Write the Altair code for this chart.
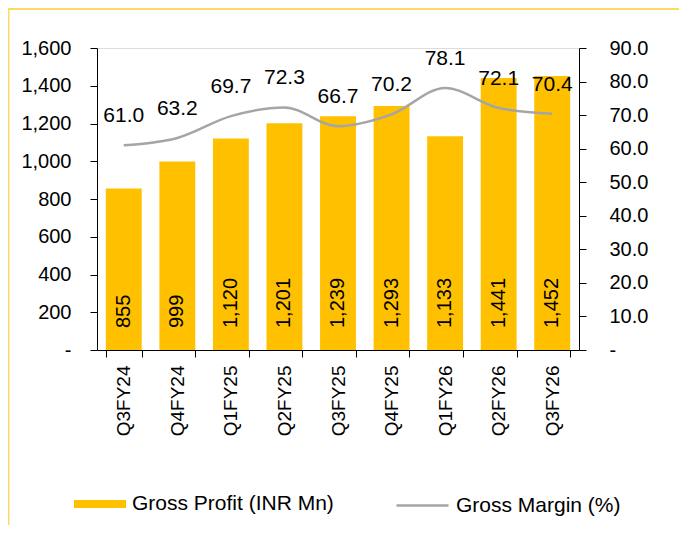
import altair as alt
import pandas as pd

quarters = ["Q3FY24", "Q4FY24", "Q1FY25", "Q2FY25", "Q3FY25", "Q4FY25", "Q1FY26", "Q2FY26", "Q3FY26"]
gross_profit = [855, 999, 1120, 1201, 1239, 1293, 1133, 1441, 1452]
gross_margin = [61.0, 63.2, 69.7, 72.3, 66.7, 70.2, 78.1, 72.1, 70.4]
left_ticks = [0, 200, 400, 600, 800, 1000, 1200, 1400, 1600]
right_ticks = [0, 10, 20, 30, 40, 50, 60, 70, 80, 90]
series_bar = "Gross Profit (INR Mn)"
series_line = "Gross Margin (%)"

df = pd.DataFrame({
    "q": quarters,
    "gp": gross_profit,
    "gm": gross_margin,
    "zero": [0] * len(quarters),
    "s1": [series_bar] * len(quarters),
    "s2": [series_line] * len(quarters),
})

FONT = "Liberation Sans"
W, H = 482, 302

x_scale = alt.Scale(paddingInner=0.33, paddingOuter=0.165)
x_axis = alt.Axis(labelAngle=-90, tickBand="extent", tickSize=7,
                  labelPadding=8, domainColor="black", tickColor="black",
                  labelColor="black", labelFontSize=19, labelFont=FONT,
                  labelOverlap=False)
xenc = alt.X("q:N", sort=quarters, title=None, scale=x_scale, axis=x_axis)

left_scale = alt.Scale(domain=[0, 1600], nice=False)
left_axis = alt.Axis(values=left_ticks, grid=False, tickSize=7, labelPadding=19,
                     domainColor="black", tickColor="black", labelColor="black",
                     labelFontSize=20, labelFont=FONT, labelOverlap=False,
                     labelExpr="datum.value == 0 ? '-\u00a0\u00a0' : format(datum.value, ',')")

right_scale = alt.Scale(domain=[0, 90], nice=False)
right_axis = alt.Axis(orient="right", values=right_ticks, grid=False, tickSize=7,
                      labelPadding=23, domainColor="black", tickColor="black",
                      labelColor="black", labelFontSize=20, labelFont=FONT,
                      labelOverlap=False,
                      labelExpr="datum.value == 0 ? '-' : format(datum.value, '.1f')")

bars = alt.Chart(df).mark_bar().encode(
    x=xenc,
    y=alt.Y("gp:Q", title=None, scale=left_scale, axis=left_axis),
    fill=alt.Fill("s1:N", scale=alt.Scale(domain=[series_bar], range=["#FFC000"]),
                  legend=alt.Legend(orient="none", legendX=-23, legendY=430, title=None,
                                    symbolType="M-1,-0.15H1V0.15H-1Z", symbolSize=2704,
                                    symbolStrokeWidth=0, labelFontSize=21, labelFont=FONT,
                                    labelColor="black", labelOffset=6, labelLimit=400,
                                    padding=0)),
)

bar_labels = alt.Chart(df).mark_text(angle=270, align="left", baseline="middle", dx=22,
                                      fontSize=20, font=FONT, color="black").encode(
    x=xenc,
    y=alt.Y("zero:Q", title=None, scale=left_scale, axis=left_axis),
    text=alt.Text("gp:Q", format=","),
)

left = alt.layer(bars, bar_labels)

line = alt.Chart(df).mark_line(interpolate="monotone", strokeWidth=2.5).encode(
    x=xenc,
    y=alt.Y("gm:Q", title=None, scale=right_scale, axis=right_axis),
    stroke=alt.Stroke("s2:N", scale=alt.Scale(domain=[series_line], range=["#A5A5A5"]),
                      legend=alt.Legend(orient="none", legendX=298, legendY=430, title=None,
                                        symbolType="M-1,0H1", symbolSize=2704,
                                        symbolStrokeWidth=2.5, labelFontSize=21,
                                        labelFont=FONT, labelColor="black", labelOffset=6,
                                        labelLimit=400, padding=0)),
)

line_labels = alt.Chart(df).mark_text(baseline="middle", align="center", dy=-29,
                                       fontSize=21, font=FONT, color="black").encode(
    x=xenc,
    y=alt.Y("gm:Q", title=None, scale=right_scale, axis=right_axis),
    text=alt.Text("gm:Q", format=".1f"),
)

right = alt.layer(line, line_labels)

border = alt.Chart(pd.DataFrame({"a": [0]})).mark_rect(
    fill=None, stroke="#FFD966", strokeWidth=2).encode(
    x=alt.value(-88.5), x2=alt.value(585), y=alt.value(-39), y2=alt.value(H + 250)
)

chart = alt.layer(left, right, border).resolve_scale(y="independent").properties(
    width=W, height=H,
    autosize=alt.AutoSizeParams(type="none"),
    padding={"left": 89, "top": 40, "right": 100, "bottom": 175},
).configure_view(stroke=None).configure(background="white")

chart.save("out.html", embed_options={"renderer": "svg", "actions": False})
